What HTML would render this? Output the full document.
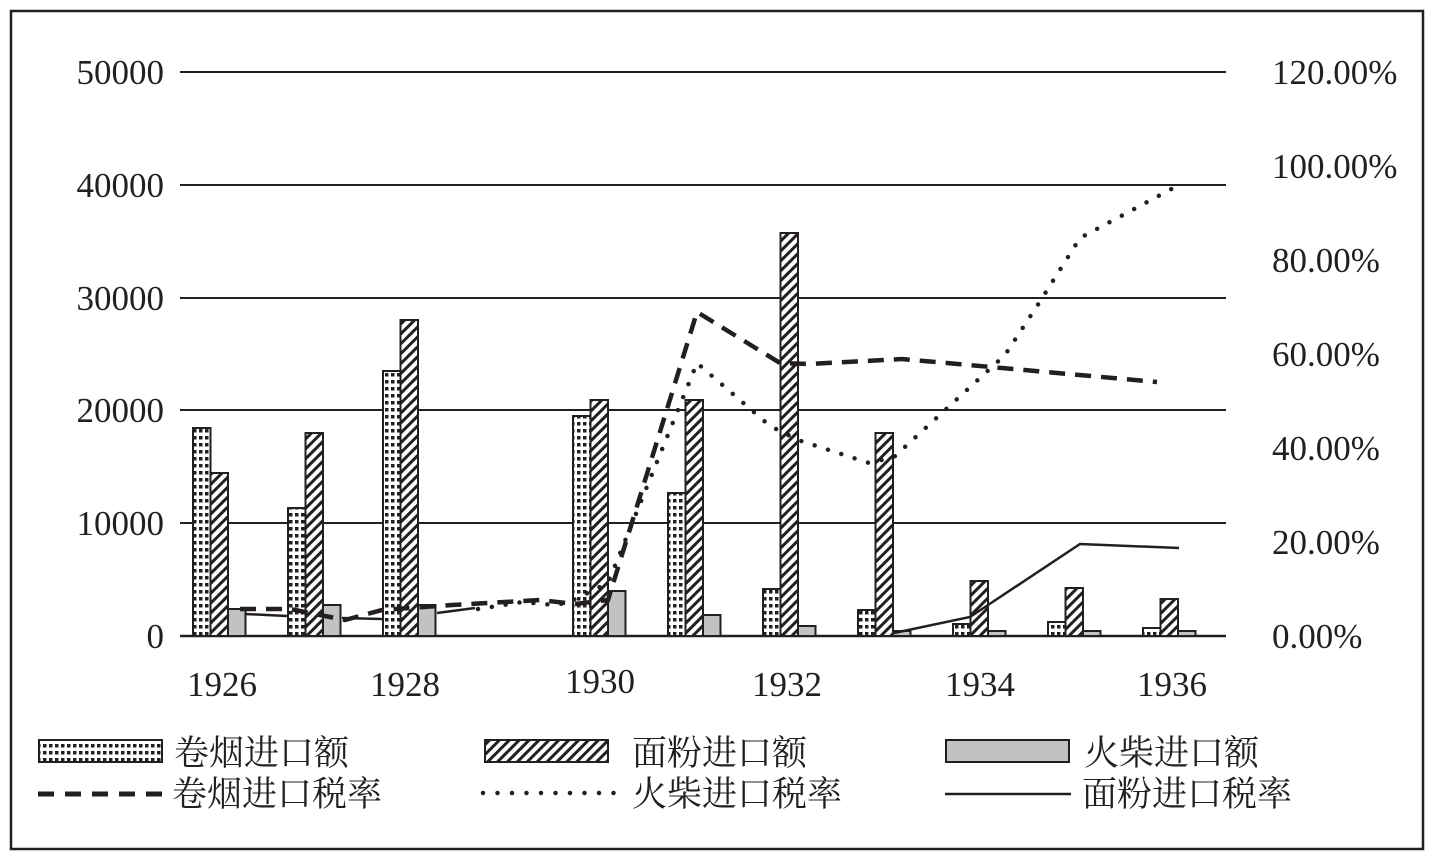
<!DOCTYPE html>
<html><head><meta charset="utf-8"><style>
html,body{margin:0;padding:0;background:#fff;}
svg{display:block;}
.n{font-family:"Liberation Serif",serif;font-size:35px;fill:#231f20;}
.c{font-family:"Liberation Serif","Noto Serif CJK SC",serif;font-size:35px;fill:#231f20;}
</style></head><body>
<svg width="1440" height="857" viewBox="0 0 1440 857" xmlns="http://www.w3.org/2000/svg">
<defs>
<pattern id="dots" patternUnits="userSpaceOnUse" x="0" y="0" width="6" height="7">
<rect width="6" height="7" fill="#fff"/><rect x="1" y="2" width="3.5" height="3.5" fill="#231f20"/>
</pattern>
<pattern id="hatch" patternUnits="userSpaceOnUse" width="7" height="7" patternTransform="rotate(45)">
<rect width="7" height="7" fill="#fff"/><rect x="0" y="0" width="3" height="7" fill="#231f20"/>
</pattern>
</defs>
<rect x="11" y="11" width="1412" height="838" fill="#fff" stroke="#231f20" stroke-width="2.5"/>
<g stroke="#231f20" stroke-width="2">
<line x1="180" y1="72" x2="1226" y2="72"/>
<line x1="180" y1="185" x2="1226" y2="185"/>
<line x1="180" y1="298" x2="1226" y2="298"/>
<line x1="180" y1="410" x2="1226" y2="410"/>
<line x1="180" y1="523" x2="1226" y2="523"/>
<line x1="180" y1="636" x2="1226" y2="636" stroke-width="2.5"/>
</g>
<g class="n" text-anchor="end">
<text x="164" y="84">50000</text><text x="164" y="197">40000</text><text x="164" y="310">30000</text>
<text x="164" y="422">20000</text><text x="164" y="535">10000</text><text x="164" y="648">0</text>
</g>
<g class="n">
<text x="1272" y="84">120.00%</text><text x="1272" y="178">100.00%</text><text x="1272" y="272">80.00%</text>
<text x="1272" y="366">60.00%</text><text x="1272" y="460">40.00%</text><text x="1272" y="554">20.00%</text>
<text x="1272" y="648">0.00%</text>
</g>
<g class="n" text-anchor="middle">
<text x="222" y="696">1926</text><text x="405" y="696">1928</text><text x="600" y="693">1930</text>
<text x="787" y="696">1932</text><text x="980" y="696">1934</text><text x="1172" y="696">1936</text>
</g>
<g stroke="#231f20" stroke-width="2">
<rect x="193" y="428" width="17.5" height="208" fill="url(#dots)"/><rect x="210.5" y="473" width="17.5" height="163" fill="url(#hatch)"/><rect x="228" y="609" width="17.5" height="27" fill="#c2c2c2"/>
<rect x="288" y="508" width="17.5" height="128" fill="url(#dots)"/><rect x="305.5" y="433" width="17.5" height="203" fill="url(#hatch)"/><rect x="323" y="605" width="17.5" height="31" fill="#c2c2c2"/>
<rect x="383" y="371" width="17.5" height="265" fill="url(#dots)"/><rect x="400.5" y="320" width="17.5" height="316" fill="url(#hatch)"/><rect x="418" y="605" width="17.5" height="31" fill="#c2c2c2"/>
<rect x="573" y="416" width="17.5" height="220" fill="url(#dots)"/><rect x="590.5" y="400" width="17.5" height="236" fill="url(#hatch)"/><rect x="608" y="591" width="17.5" height="45" fill="#c2c2c2"/>
<rect x="668" y="493" width="17.5" height="143" fill="url(#dots)"/><rect x="685.5" y="400" width="17.5" height="236" fill="url(#hatch)"/><rect x="703" y="615" width="17.5" height="21" fill="#c2c2c2"/>
<rect x="763" y="589" width="17.5" height="47" fill="url(#dots)"/><rect x="780.5" y="233" width="17.5" height="403" fill="url(#hatch)"/><rect x="798" y="626" width="17.5" height="10" fill="#c2c2c2"/>
<rect x="858" y="610" width="17.5" height="26" fill="url(#dots)"/><rect x="875.5" y="433" width="17.5" height="203" fill="url(#hatch)"/><rect x="893" y="631" width="17.5" height="5" fill="#c2c2c2"/>
<rect x="953" y="624" width="17.5" height="12" fill="url(#dots)"/><rect x="970.5" y="581" width="17.5" height="55" fill="url(#hatch)"/><rect x="988" y="631" width="17.5" height="5" fill="#c2c2c2"/>
<rect x="1048" y="622" width="17.5" height="14" fill="url(#dots)"/><rect x="1065.5" y="588" width="17.5" height="48" fill="url(#hatch)"/><rect x="1083" y="631" width="17.5" height="5" fill="#c2c2c2"/>
<rect x="1143" y="628" width="17.5" height="8" fill="url(#dots)"/><rect x="1160.5" y="599" width="17.5" height="37" fill="url(#hatch)"/><rect x="1178" y="631" width="17.5" height="5" fill="#c2c2c2"/>
</g>
<g fill="none" stroke="#231f20">
<polyline stroke-width="2.5" points="245,614 287,616"/>
<polyline stroke-width="2.5" points="342,618 383,619"/>
<polyline stroke-width="2.5" points="437,613 475,608"/>
<polyline stroke-width="2.5" points="894,633 970,617 1080,544 1179,548"/>
<polyline stroke-width="4.5" stroke-dasharray="16,10" points="240,609 290,609 345,620 382,610 452,605 540,600 575,604 608,600 697,312 780,363 809,364 902,359 991,367 1157,382"/>
<polyline stroke-width="4.5" stroke-linecap="round" stroke-dasharray="0,14" points="478,609 523,602 553,605 567,603 608,583 697,363 770,426 798,440 869,463 894,457 1005,355 1039,303 1080,238 1179,185"/>
</g>
<g stroke="#231f20" stroke-width="2">
<rect x="39" y="740" width="123" height="22" fill="url(#dots)"/>
<rect x="485" y="740" width="123" height="22" fill="url(#hatch)"/>
<rect x="946" y="740" width="123" height="22" fill="#c2c2c2"/>
</g>
<g fill="none" stroke="#231f20">
<line x1="38" y1="794" x2="166" y2="794" stroke-width="5" stroke-dasharray="16,11"/>
<line x1="483" y1="793" x2="615" y2="793" stroke-width="4.5" stroke-linecap="round" stroke-dasharray="0,14.5"/>
<line x1="945" y1="794" x2="1071" y2="794" stroke-width="2.5"/>
</g>
<g class="c">
<text x="174" y="765">卷烟进口额</text><text x="632" y="765">面粉进口额</text><text x="1084" y="765">火柴进口额</text>
<text x="172" y="806">卷烟进口税率</text><text x="632" y="806">火柴进口税率</text><text x="1082" y="806">面粉进口税率</text>
</g>
</svg>
</body></html>
